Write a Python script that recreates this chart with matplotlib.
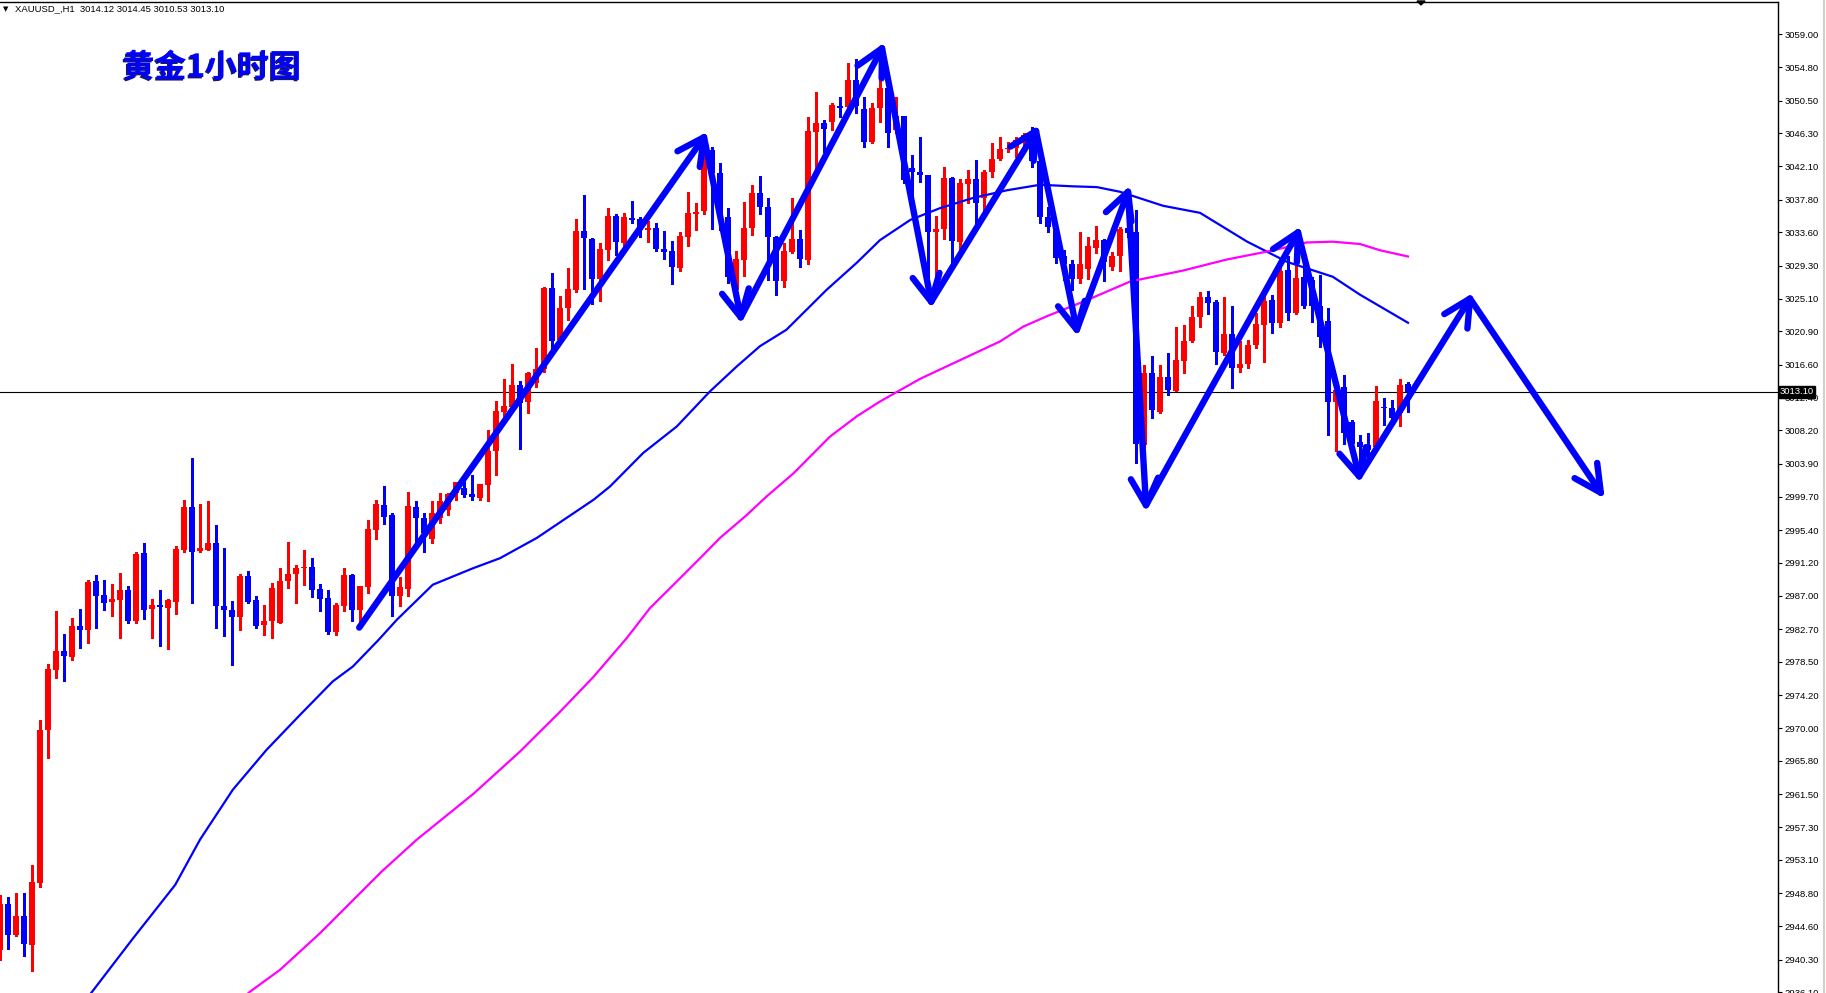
import matplotlib
matplotlib.use("Agg")
import matplotlib.pyplot as plt
import matplotlib.patheffects as pe
from matplotlib.lines import Line2D
from matplotlib.patches import Polygon
import numpy as np

OUT_FILE = "out.png"

TITLE = "黄金1小时图"
HEADER = "XAUUSD_,H1  3014.12 3014.45 3010.53 3013.10"
LAST_PRICE = 3013.10

# H1 candles, oldest first
OPENS = [
    2941.5, 2947.5, 2943.5, 2945.9, 2942.2, 2950.2, 2969.7, 2977.5, 2979.9, 2979.1,
    2983.1, 2982.6, 2988.9, 2987.1, 2986.2, 2986.5, 2987.7, 2983.7, 2992.5, 2985.3,
    2985.8, 2985.4, 2986.2, 2992.8, 2998.4, 2992.7, 2992.9, 2993.7, 2985.7, 2985.2,
    2984.3, 2989.5, 2986.5, 2983.2, 2983.7, 2983.5, 2988.9, 2989.8, 2990.5, 2990.7,
    2987.9, 2986.7, 2982.3, 2985.7, 2989.6, 2985.2, 2988.1, 2995.4, 2998.6, 2997.3,
    2986.9, 2987.9, 2998.4, 2997.0, 2994.3, 2997.0, 2998.0, 3000.2, 3000.8, 3000.0,
    2999.5, 3001.2, 3005.5, 3010.5, 3011.2, 3014.0, 3011.8, 3014.3, 3016.1, 3026.5,
    3019.8, 3023.9, 3026.2, 3033.8, 3032.7, 3027.6, 3031.3, 3035.7, 3032.2, 3035.5,
    3035.3, 3033.9, 3034.2, 3031.5, 3031.2, 3029.0, 3033.0, 3036.0, 3036.3, 3044.1,
    3041.2, 3035.6, 3026.2, 3030.1, 3034.2, 3038.6, 3036.9, 3033.0, 3027.3, 3031.1,
    3032.7, 3030.1, 3046.5, 3047.6, 3047.8, 3049.8, 3049.7, 3053.1, 3049.4, 3045.2,
    3049.6, 3052.1, 3046.7, 3048.5, 3041.8, 3041.4, 3041.0, 3033.7, 3034.0, 3040.6,
    3032.4, 3039.8, 3040.4, 3038.0, 3041.3, 3043.0, 3044.3, 3044.4, 3045.2, 3046.1,
    3042.7, 3035.6, 3034.3, 3030.5, 3029.5, 3027.6, 3028.9, 3031.6, 3032.6, 3029.2,
    3030.5, 3034.2, 3033.7, 3006.3, 3015.5, 3010.6, 3015.0, 3013.3, 3017.1, 3019.6,
    3022.7, 3025.3, 3024.6, 3018.1, 3020.6, 3016.2, 3016.7, 3019.1, 3021.7, 3024.9,
    3022.0, 3028.8, 3023.2, 3027.9, 3027.5, 3024.2, 3022.2, 3011.8, 3013.7, 3009.3,
    3006.7, 3006.3, 3006.1, 3011.2, 3011.1, 3010.4, 3014.12,
]
HIGHS = [
    2948.6, 2948.3, 2948.9, 2948.9, 2952.4, 2971.1, 2978.2, 2985.0, 2982.1, 2984.1,
    2985.3, 2989.0, 2989.7, 2989.0, 2988.5, 2989.9, 2988.2, 2992.6, 2993.8, 2986.6,
    2987.7, 2986.6, 2993.4, 2999.3, 3004.6, 2998.7, 2999.1, 2996.0, 2993.1, 2986.3,
    2989.8, 2990.2, 2986.9, 2985.8, 2988.6, 2990.5, 2993.9, 2990.9, 2992.9, 2991.8,
    2988.5, 2987.7, 2986.0, 2990.5, 2989.8, 2988.2, 2996.7, 2999.3, 3001.0, 2997.6,
    2989.4, 3000.3, 2999.1, 2997.6, 2999.2, 3000.2, 3000.2, 3001.6, 3002.5, 3002.5,
    3001.3, 3008.2, 3012.0, 3014.8, 3016.7, 3014.5, 3015.7, 3018.8, 3026.6, 3028.4,
    3025.4, 3029.0, 3035.3, 3038.4, 3032.9, 3032.2, 3036.7, 3036.0, 3036.1, 3037.6,
    3035.6, 3035.0, 3034.8, 3033.8, 3032.5, 3033.6, 3038.8, 3037.3, 3044.2, 3044.6,
    3042.5, 3036.7, 3031.2, 3037.5, 3039.7, 3040.8, 3038.0, 3033.1, 3032.2, 3038.0,
    3033.9, 3048.4, 3051.6, 3048.0, 3050.2, 3051.0, 3055.3, 3055.8, 3051.0, 3050.2,
    3054.0, 3053.1, 3051.0, 3048.5, 3043.5, 3045.8, 3041.0, 3035.7, 3042.0, 3040.7,
    3040.5, 3041.6, 3042.9, 3041.6, 3045.0, 3045.8, 3045.2, 3045.8, 3046.3, 3047.1,
    3042.7, 3036.9, 3034.5, 3031.3, 3030.1, 3033.7, 3033.0, 3034.4, 3032.7, 3031.1,
    3034.3, 3036.5, 3036.5, 3016.6, 3017.7, 3016.6, 3018.1, 3021.4, 3021.7, 3024.1,
    3025.9, 3026.1, 3024.9, 3025.3, 3024.1, 3019.7, 3019.8, 3023.3, 3025.6, 3025.6,
    3029.6, 3030.5, 3030.5, 3029.2, 3027.9, 3028.1, 3023.9, 3013.8, 3015.3, 3009.5,
    3007.6, 3007.8, 3013.9, 3012.3, 3012.1, 3014.8, 3014.45,
]
LOWS = [
    2940.3, 2941.7, 2943.3, 2940.8, 2938.9, 2949.6, 2966.2, 2976.4, 2976.1, 2978.8,
    2980.3, 2980.9, 2982.9, 2985.2, 2984.4, 2981.5, 2983.5, 2983.5, 2984.0, 2981.5,
    2980.6, 2980.2, 2984.6, 2992.6, 2986.1, 2992.6, 2992.8, 2982.9, 2981.8, 2978.1,
    2982.6, 2986.1, 2982.9, 2982.0, 2981.5, 2983.5, 2988.0, 2986.1, 2988.4, 2986.8,
    2985.0, 2982.1, 2982.0, 2985.0, 2983.8, 2983.5, 2987.4, 2994.3, 2996.2, 2984.4,
    2985.7, 2986.9, 2993.8, 2992.6, 2993.8, 2996.3, 2997.3, 2999.3, 2999.7, 2999.3,
    2999.3, 2999.2, 3002.5, 3010.0, 3010.8, 3005.8, 3010.4, 3013.8, 3015.7, 3018.5,
    3019.4, 3022.3, 3026.0, 3026.3, 3024.4, 3024.8, 3030.1, 3030.7, 3031.8, 3034.8,
    3033.0, 3032.3, 3031.2, 3030.2, 3027.0, 3028.7, 3031.9, 3033.9, 3036.0, 3034.0,
    3033.9, 3027.1, 3025.3, 3028.0, 3033.3, 3036.0, 3027.5, 3025.6, 3026.6, 3030.9,
    3029.1, 3029.5, 3041.6, 3043.9, 3046.7, 3048.4, 3049.6, 3048.9, 3044.6, 3045.1,
    3047.8, 3044.5, 3046.3, 3039.9, 3036.3, 3040.1, 3027.9, 3028.0, 3032.8, 3029.6,
    3031.3, 3037.3, 3034.8, 3036.5, 3040.7, 3042.9, 3043.9, 3043.3, 3044.2, 3042.0,
    3034.8, 3033.6, 3029.7, 3027.5, 3026.2, 3027.1, 3027.6, 3030.9, 3027.3, 3028.8,
    3028.6, 3033.0, 3004.0, 3006.1, 3009.8, 3010.4, 3012.7, 3013.2, 3015.6, 3019.5,
    3021.4, 3023.1, 3016.7, 3017.9, 3013.6, 3015.7, 3016.2, 3018.7, 3017.0, 3020.7,
    3021.5, 3022.4, 3023.1, 3023.9, 3022.1, 3018.9, 3007.6, 3005.5, 3006.5, 3006.1,
    3004.0, 3004.6, 3005.7, 3008.9, 3008.9, 3008.8, 3010.53,
]
CLOSES = [
    2947.5, 2943.5, 2945.9, 2942.3, 2950.3, 2969.8, 2977.6, 2979.9, 2979.2, 2983.1,
    2982.6, 2988.8, 2987.0, 2986.1, 2986.6, 2987.7, 2983.7, 2992.4, 2985.2, 2985.8,
    2985.6, 2986.5, 2993.0, 2998.4, 2992.6, 2993.1, 2993.7, 2985.7, 2985.2, 2984.3,
    2989.5, 2986.2, 2983.1, 2983.8, 2988.0, 2988.9, 2989.8, 2990.5, 2990.7, 2987.7,
    2986.6, 2982.3, 2985.8, 2989.6, 2985.2, 2988.2, 2995.6, 2998.8, 2997.1, 2986.9,
    2988.1, 2998.5, 2996.9, 2995.0, 2997.6, 2999.1, 3000.0, 3001.6, 2999.9, 2999.6,
    3001.3, 3005.6, 3010.7, 3011.3, 3014.0, 3011.7, 3015.6, 3016.1, 3026.5, 3019.7,
    3023.9, 3026.3, 3033.8, 3032.9, 3027.6, 3031.5, 3035.7, 3032.3, 3035.6, 3035.2,
    3033.9, 3034.2, 3031.5, 3031.1, 3029.1, 3033.1, 3036.1, 3036.2, 3043.5, 3041.2,
    3035.6, 3027.9, 3030.2, 3034.2, 3038.6, 3036.8, 3033.0, 3027.3, 3031.2, 3032.7,
    3030.2, 3046.6, 3047.6, 3046.9, 3049.9, 3049.6, 3053.1, 3049.8, 3045.2, 3049.6,
    3052.1, 3046.3, 3048.5, 3040.3, 3041.4, 3040.9, 3033.7, 3034.0, 3040.6, 3032.5,
    3039.9, 3040.4, 3037.3, 3041.4, 3043.0, 3044.3, 3044.4, 3045.4, 3046.1, 3042.7,
    3035.6, 3034.3, 3030.3, 3029.6, 3027.6, 3029.5, 3031.8, 3032.6, 3029.8, 3030.6,
    3034.0, 3033.5, 3006.5, 3015.5, 3010.8, 3015.0, 3013.4, 3017.2, 3019.7, 3022.8,
    3025.3, 3024.5, 3018.2, 3020.6, 3016.2, 3016.7, 3019.2, 3021.8, 3024.8, 3022.0,
    3028.6, 3023.3, 3027.8, 3024.2, 3024.1, 3020.2, 3011.8, 3013.4, 3007.8, 3006.5,
    3006.1, 3005.7, 3011.9, 3011.1, 3009.8, 3014.0, 3013.10,
]

# fast moving average (blue), sampled at bar positions
MA_FAST_X = [11.0, 16.6, 21.9, 25.0, 29.1, 33.3, 37.5, 41.6, 44.1, 47.3,
             49.6, 54.1, 59.1, 62.5, 67.1, 70.0, 74.2, 76.25, 80.4, 84.6,
             88.75, 92.1, 95.0, 98.3, 103.3, 107.1, 110.0, 113.8, 117.5, 121.6,
             125.9, 130.0, 134.1, 137.1, 140.0, 145.4, 150.0, 155.9, 160.9, 166.6,
             170.0, 176.0]
MA_FAST_Y = [2935.5, 2943.0, 2949.9, 2955.7, 2962.1, 2967.2, 2971.7, 2976.0, 2977.9, 2981.3,
             2983.9, 2988.4, 2990.5, 2991.8, 2994.4, 2996.4, 2999.3, 3001.0, 3005.3, 3008.7,
             3013.2, 3016.4, 3019.0, 3021.1, 3026.2, 3029.7, 3032.6, 3035.2, 3036.7, 3038.0,
             3039.0, 3039.7, 3039.5, 3039.4, 3038.8, 3037.0, 3036.1, 3032.4, 3029.8, 3027.9,
             3025.6, 3022.0]

# slow moving average (magenta)
MA_SLOW_X = [30.5, 31.25, 35.0, 40.0, 47.7, 52.1, 59.2, 65.0, 70.0, 74.2,
             78.3, 81.25, 84.2, 87.9, 90.0, 93.3, 95.8, 99.2, 103.75, 107.1,
             110.0, 115.0, 120.0, 125.0, 127.9, 131.0, 135.4, 141.3, 147.9, 153.3,
             159.2, 163.3, 166.6, 170.0, 172.5, 176.0]
MA_SLOW_Y = [2935.5, 2936.2, 2939.0, 2943.7, 2951.6, 2955.7, 2961.6, 2967.0, 2972.1, 2976.6,
             2981.5, 2985.4, 2988.4, 2992.2, 2994.4, 2997.3, 2999.7, 3002.7, 3007.4, 3010.0,
             3011.9, 3014.8, 3017.2, 3019.6, 3021.5, 3022.9, 3024.7, 3027.3, 3028.7, 3030.1,
             3031.3, 3032.3, 3032.4, 3032.1, 3031.3, 3030.5]

# hand drawn zigzag (vertices, each segment ends in an arrow head)
ZIGZAG_X = [44.9, 88.0, 92.6, 110.25, 116.4, 129.5, 134.6, 141.0, 143.25,
            162.25, 169.9, 183.75, 200.1]
ZIGZAG_Y = [2982.9, 3045.8, 3022.7, 3057.2, 3024.7, 3046.6, 3021.1, 3038.8, 2998.6,
            3033.6, 3002.3, 3025.1, 3000.2]

PRICE_TICKS = [3059.00, 3054.80, 3050.50, 3046.30, 3042.10, 3037.80, 3033.60, 3029.30,
               3025.10, 3020.90, 3016.60, 3012.40, 3008.20, 3003.90, 2999.70, 2995.40,
               2991.20, 2987.00, 2982.70, 2978.50, 2974.20, 2970.00, 2965.80, 2961.50,
               2957.30, 2953.10, 2948.80, 2944.60, 2940.30, 2936.10]

W, H = 1826, 993
AX_RIGHT = 1778
AX_TOP = 2
BULL = "#ff0000"
BEAR = "#0000ff"


def px(x, y):
    # pixel position (from top left) to figure fraction
    return x / W, 1 - y / H


def draw_candles(ax):
    o = np.array(OPENS)
    h = np.array(HIGHS)
    l = np.array(LOWS)
    c = np.array(CLOSES)
    x = np.arange(len(o))
    up = c >= o
    colors = np.where(up, BULL, BEAR)

    ax.vlines(x, l, h, colors=colors, lw=0.8, antialiased=False, zorder=2)
    body_lo = np.minimum(o, c)
    body_h = np.maximum(np.abs(c - o), 0.13)
    ax.bar(x, body_h, bottom=body_lo, width=0.63, color=colors,
           linewidth=0, antialiased=False, zorder=2)


def draw_zigzag(ax):
    lw = 4.6
    ax.plot(ZIGZAG_X, ZIGZAG_Y, color=BEAR, lw=lw, solid_capstyle="round",
            solid_joinstyle="round", zorder=6)

    to_px = ax.transData
    to_data = ax.transData.inverted()
    head_len = 30
    ang = np.radians(27)
    for i in range(1, len(ZIGZAG_X)):
        a = to_px.transform((ZIGZAG_X[i - 1], ZIGZAG_Y[i - 1]))
        b = to_px.transform((ZIGZAG_X[i], ZIGZAG_Y[i]))
        d = (a - b) / np.hypot(*(a - b))
        for s in (ang, -ang):
            rot = np.array([[np.cos(s), -np.sin(s)], [np.sin(s), np.cos(s)]])
            tip = b + head_len * rot.dot(d)
            pts = to_data.transform(np.array([tip, b]))
            ax.plot(pts[:, 0], pts[:, 1], color=BEAR, lw=lw,
                    solid_capstyle="round", zorder=6)


def main():
    fig = plt.figure(figsize=(W / 100, H / 100), dpi=100)
    fig.patch.set_facecolor("white")
    ax = fig.add_axes([0, 0, AX_RIGHT / W, (H - AX_TOP) / H])

    # price scale: 3059.00 sits at y=34.3px, 2940.30 at y=959.7px
    per_px = (3059.00 - 2940.30) / (959.7 - 34.3)
    top_price = 3059.00 + (34.3 - AX_TOP) * per_px
    bottom_price = 3059.00 - (H - 34.3) * per_px
    ax.set_xlim(0, AX_RIGHT / 8)
    ax.set_ylim(bottom_price, top_price)

    ax.axhline(LAST_PRICE, color="black", lw=0.8, zorder=1)
    draw_candles(ax)
    ax.plot(MA_FAST_X, MA_FAST_Y, color="#0000ff", lw=1.6, zorder=3)
    ax.plot(MA_SLOW_X, MA_SLOW_Y, color="#ff00ff", lw=1.6, zorder=3)
    draw_zigzag(ax)

    for side in ("left", "bottom"):
        ax.spines[side].set_visible(False)
    for side in ("top", "right"):
        ax.spines[side].set_linewidth(1.0)
        ax.spines[side].set_color("black")
    ax.set_xticks([])
    ax.yaxis.tick_right()
    ax.set_yticks(PRICE_TICKS)
    ax.set_yticklabels([f"{t:.2f}" for t in PRICE_TICKS])
    ax.tick_params(axis="y", direction="out", length=3, width=0.8, pad=2,
                   labelsize=6.8, labelcolor="black")
    for lab in ax.get_yticklabels():
        lab.set_family(["Liberation Sans", "DejaVu Sans"])

    # last price box on the scale
    fig.text(*px(1780, 392), f"{LAST_PRICE:.2f}", fontsize=6.8, color="white",
             ha="left", va="center", family=["Liberation Sans", "DejaVu Sans"],
             bbox=dict(boxstyle="square,pad=0.12", fc="black", ec="black"),
             zorder=10)

    # right window edge and chart shift marker
    fig.add_artist(Line2D([1824 / W, 1824 / W], [0, 1], color="#d4d0c8", lw=1.5))
    fig.add_artist(Polygon([px(1417, 1), px(1425, 1), px(1421, 5)],
                           closed=True, fc="black", ec="black",
                           transform=fig.transFigure))

    fig.text(*px(3, 9), "▼", fontsize=5, color="black", ha="left", va="center",
             family="DejaVu Sans")
    fig.text(*px(15, 9), HEADER, fontsize=6.8, color="black", ha="left",
             va="center", family=["Liberation Sans", "DejaVu Sans"])

    t = fig.text(*px(212, 68), TITLE, fontsize=23, fontweight="bold",
                 color="#0000ff", ha="center", va="center",
                 family=["Noto Sans CJK SC", "DejaVu Sans"])
    t.set_path_effects([pe.withSimplePatchShadow(offset=(-1, -1),
                                                 shadow_rgbFace="#000050",
                                                 alpha=0.9)])

    fig.savefig(OUT_FILE, dpi=100)


if __name__ == "__main__":
    main()
